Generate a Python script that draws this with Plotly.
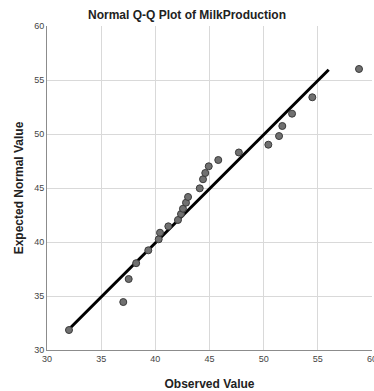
import plotly.graph_objects as go

observed = [32.03, 37.04, 37.54, 38.23, 39.35, 40.31, 40.43, 41.20, 42.09, 42.37,
            42.55, 42.83, 43.02, 44.10, 44.40, 44.61, 44.93, 45.81, 47.71, 50.43,
            51.42, 51.72, 52.62, 54.49, 58.80]
expected = [31.85, 34.44, 36.57, 38.04, 39.23, 40.25, 40.86, 41.45, 42.04, 42.59,
            43.08, 43.64, 44.17, 44.97, 45.81, 46.39, 47.01, 47.59, 48.29, 49.01,
            49.81, 50.74, 51.88, 53.40, 56.02]
line_x = [32.0, 56.0]
line_y = [31.9, 55.95]
ticks = [30, 35, 40, 45, 50, 55, 60]

fig = go.Figure()
fig.add_trace(go.Scatter(x=line_x, y=line_y, mode="lines",
                         line=dict(color="black", width=3), showlegend=False,
                         hoverinfo="skip"))
fig.add_trace(go.Scatter(x=observed, y=expected, mode="markers",
                         marker=dict(size=7, color="#707070",
                                     line=dict(color="#3a3a3a", width=1)),
                         showlegend=False))

axis_common = dict(showgrid=True, gridcolor="#d9d9d9", gridwidth=1,
                   showline=True, linecolor="#8c8c8c", linewidth=1,
                   zeroline=False, ticks="", tickvals=ticks,
                   ticklabeloverflow="allow", automargin=False,
                   tickfont=dict(family="Liberation Sans, Arial", size=9, color="#444444"))

fig.update_layout(
    width=374, height=391,
    margin=dict(l=47, r=2, t=26, b=41),
    paper_bgcolor="white", plot_bgcolor="white",
    title=dict(text="<b>Normal Q-Q Plot of MilkProduction</b>", x=0.5, xanchor="center",
               y=1 - 15 / 391, yanchor="middle",
               font=dict(family="Liberation Sans, Arial", size=12, color="#222222")),
    xaxis=dict(range=[30, 60], title=dict(text="<b>Observed Value</b>", standoff=16,
               font=dict(family="Liberation Sans, Arial", size=12, color="#222222")),
               **axis_common),
    yaxis=dict(range=[30, 60], title=dict(text="<b>Expected Normal Value</b>", standoff=7,
               font=dict(family="Liberation Sans, Arial", size=12, color="#222222")),
               **axis_common),
)

fig.write_html("out.html")
